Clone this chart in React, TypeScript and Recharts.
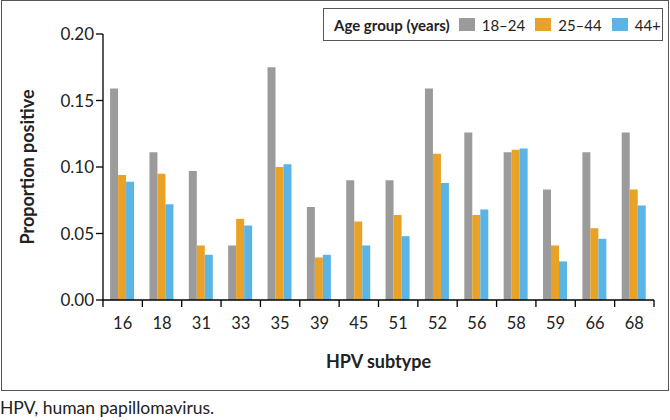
import React from "react";
import { BarChart, Bar, XAxis, YAxis, Legend } from "recharts";

const subtypes = ["16", "18", "31", "33", "35", "39", "45", "51", "52", "56", "58", "59", "66", "68"];
const age1824 = [0.159, 0.111, 0.097, 0.041, 0.175, 0.070, 0.090, 0.090, 0.159, 0.126, 0.111, 0.083, 0.111, 0.126];
const age2544 = [0.094, 0.095, 0.041, 0.061, 0.100, 0.032, 0.059, 0.064, 0.110, 0.064, 0.113, 0.041, 0.054, 0.083];
const age44p = [0.089, 0.072, 0.034, 0.056, 0.102, 0.034, 0.041, 0.048, 0.088, 0.068, 0.114, 0.029, 0.046, 0.071];
const yTicks = [0, 0.05, 0.1, 0.15, 0.2];

const seriesDefs = [
  { key: "a", name: "18–24", color: "#9B9B9B", values: age1824 },
  { key: "b", name: "25–44", color: "#E9A126", values: age2544 },
  { key: "c", name: "44+", color: "#5AB4E6", values: age44p },
];

const data = subtypes.map((s, i) => {
  const row: any = { subtype: s };
  seriesDefs.forEach((d) => (row[d.key] = d.values[i]));
  return row;
});

const FONT = "Lato, 'Open Sans', sans-serif";

const XTick = (props: any) => {
  const { x, y, payload, index } = props;
  const half = payload && payload.offset ? payload.offset : 19.68;
  const last = index === subtypes.length - 1;
  return (
    <g>
      <line x1={x - half} y1={y - 8} x2={x - half} y2={y - 1} stroke="#000" strokeWidth={1.3} />
      {last && <line x1={x + half} y1={y - 8} x2={x + half} y2={y - 1} stroke="#000" strokeWidth={1.3} />}
      <text x={x} y={y + 21} textAnchor="middle" fontSize={16.5} fill="#222" fontFamily={FONT}>
        {payload.value}
      </text>
    </g>
  );
};

const LegendContent = () => (
  <div
    style={{
      border: "1px solid #555",
      width: 340,
      height: 33,
      boxSizing: "border-box",
      display: "flex",
      flexWrap: "nowrap",
      alignItems: "center",
      paddingLeft: 10,
      fontFamily: FONT,
      color: "#222",
      background: "#fff",
      whiteSpace: "nowrap",
    }}
  >
    <span style={{ fontWeight: 700, fontSize: 15, marginRight: 9, flexShrink: 0 }}>Age group (years)</span>
    {seriesDefs.map((d) => (
      <span key={d.key} style={{ display: "flex", alignItems: "center", marginRight: 10, flexShrink: 0 }}>
        <span style={{ display: "inline-block", width: 16, height: 13, background: d.color, marginRight: 7, flexShrink: 0 }} />
        <span style={{ fontSize: 15, whiteSpace: "nowrap" }}>{d.name}</span>
      </span>
    ))}
  </div>
);

export default function App() {
  return (
    <div style={{ position: "absolute", left: 0, top: 0, width: 670, height: 420, background: "#fff", fontFamily: FONT }}>
      <div
        style={{
          position: "absolute",
          left: 1,
          top: 0,
          width: 668,
          height: 391,
          boxSizing: "border-box",
          border: "1px solid #555",
        }}
      />
      <div style={{ position: "absolute", left: 0, top: 0 }}>
        <BarChart
          width={670}
          height={390}
          data={data}
          margin={{ top: 34, right: 16, bottom: 30, left: 0 }}
          barCategoryGap="18%"
          barGap={0}
        >
          <XAxis
            dataKey="subtype"
            height={60}
            axisLine={{ stroke: "#000", strokeWidth: 1.3 }}
            tickLine={false}
            tick={<XTick />}
            interval={0}
            label={(p: any) => {
              const vb = p.viewBox || {};
              return (
                <text x={vb.x + vb.width / 2} y={vb.y + 68} textAnchor="middle" fontSize={18} fontWeight={700} fill="#222" fontFamily={FONT}>
                  HPV subtype
                </text>
              );
            }}
          />
          <YAxis
            width={103}
            domain={[0, 0.2]}
            ticks={yTicks}
            tickFormatter={(v: number) => v.toFixed(2)}
            axisLine={{ stroke: "#000", strokeWidth: 1.3 }}
            tickLine={{ stroke: "#000", strokeWidth: 1.3 }}
            tickSize={7}
            tick={{ fontSize: 17, fill: "#222", fontFamily: FONT }}
            label={(p: any) => {
              const vb = p.viewBox || {};
              const cx = vb.x + 27;
              const cy = vb.y + vb.height / 2;
              return (
                <text x={cx} y={cy} transform={`rotate(-90 ${cx} ${cy})`} textAnchor="middle" dominantBaseline="central" fontSize={18} fontWeight={700} fill="#222" fontFamily={FONT}>
                  Proportion positive
                </text>
              );
            }}
          />
          <Legend
            layout="horizontal"
            verticalAlign="middle"
            align="center"
            content={<LegendContent />}
            wrapperStyle={{ position: "absolute", left: 323, top: 8, width: 340, height: 33 }}
          />
          {seriesDefs.map((d) => (
            <Bar key={d.key} dataKey={d.key} name={d.name} fill={d.color} isAnimationActive={false} />
          ))}
        </BarChart>
      </div>
      <div style={{ position: "absolute", left: 0, top: 397, fontSize: 17.5, color: "#222", fontFamily: FONT, whiteSpace: "nowrap" }}>
        HPV, human papillomavirus.
      </div>
    </div>
  );
}
